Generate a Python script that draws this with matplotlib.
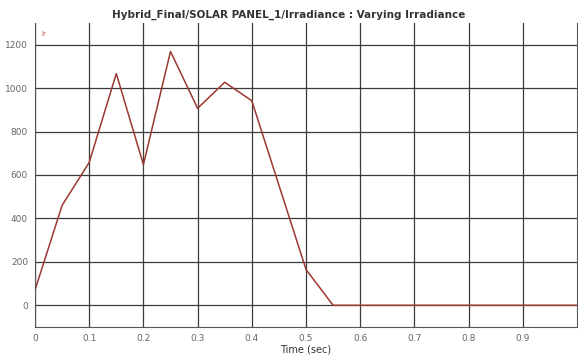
import numpy as np
from matplotlib import pyplot as plt

# irradiance profile (W/m^2) sampled every 0.05 s
t = [0, 0.05, 0.1, 0.15, 0.2, 0.25, 0.3, 0.35, 0.4, 0.5, 0.55, 0.6, 0.7, 0.8, 0.9, 1.0]
ir = [70, 460, 658, 1067, 648, 1169, 907, 1027, 942, 165, 0, 0, 0, 0, 0, 0]

xticks = [0, 0.1, 0.2, 0.3, 0.4, 0.5, 0.6, 0.7, 0.8, 0.9]
xticklabels = ["0", "0.1", "0.2", "0.3", "0.4", "0.5", "0.6", "0.7", "0.8", "0.9"]
yticks = [0, 200, 400, 600, 800, 1000, 1200]

fig = plt.figure(figsize=(5.78, 3.56), dpi=100)
ax = fig.add_axes([35 / 578, 1 - 327 / 356, 542 / 578, 304 / 356])

ax.plot(t, ir, color="#9a3832", lw=1.1)

ax.set_xlim(0, 1.0)
ax.set_ylim(-100, 1300)
ax.set_xticks(xticks)
ax.set_xticklabels(xticklabels)
ax.set_yticks(yticks)
ax.grid(True, color="#3a3a3a", lw=0.9)
ax.set_axisbelow(True)
ax.tick_params(length=0, labelsize=6.5, labelcolor="#666666", pad=5)
ax.spines["top"].set_visible(False)
for s in ["left", "bottom", "right"]:
    ax.spines[s].set_color("#555555")

ax.text(0.012, 0.975, "Ir", transform=ax.transAxes, color="#c05050",
        fontsize=5, va="top")
ax.set_xlabel("Time (sec)", fontsize=7, color="#333333", labelpad=1)
fig.text(0.5, 0.958, "Hybrid_Final/SOLAR PANEL_1/Irradiance : Varying Irradiance",
         ha="center", va="center", fontsize=7.5, fontweight="bold", color="#333333")

plt.savefig("out.png", dpi=100)
